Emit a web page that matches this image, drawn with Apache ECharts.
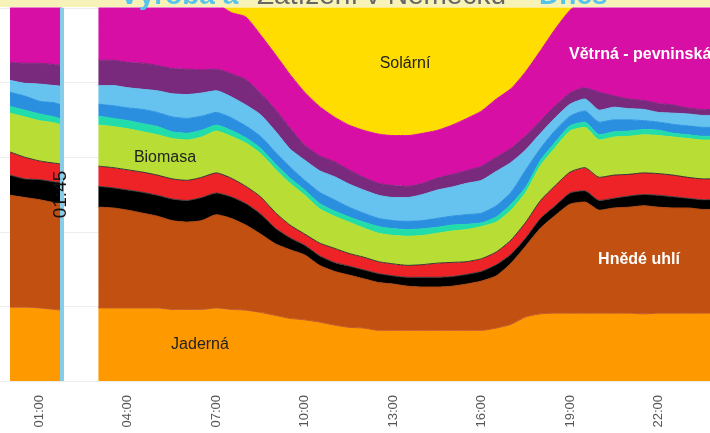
<!DOCTYPE html>
<html>
<head>
<meta charset="utf-8">
<script src="https://cdn.jsdelivr.net/npm/echarts@6/dist/echarts.min.js"></script>
<style>
  html, body { margin: 0; padding: 0; background: #fff; }
  #main { width: 710px; height: 433px; }
</style>
</head>
<body>
<div id="main"></div>
<script>
// čas v hodinách, mezera v datech 02:00 - 02:45 (null)
var hours = [0, 0.5, 1, 1.5, 1.75, 2.25, 3, 3.5, 4, 4.5, 5, 5.5, 6, 6.5, 7, 7.5, 8, 8.5, 9, 9.5,
  10, 10.5, 11, 11.5, 12, 12.5, 13, 13.5, 14, 14.5, 15, 15.5, 16, 16.5, 17, 17.5, 18, 18.5, 19, 19.5,
  20, 20.5, 21, 21.5, 22, 22.5, 23, 23.5, 23.75];

// výroba v GW
var jaderna = [9.9, 9.9, 9.8, 9.6, 9.5, null, 9.8, 9.8, 9.8, 9.8, 9.8, 9.6, 9.6, 9.6, 9.8, 9.6, 9.5, 9.2, 8.8, 8.4,
  8.2, 7.9, 7.5, 7.2, 7.1, 6.8, 6.8, 6.8, 6.8, 6.8, 6.8, 6.8, 6.8, 7.1, 7.6, 8.6, 9.0, 9.1, 9.1, 9.1,
  9.1, 9.1, 9.1, 9.0, 9.1, 9.1, 9.1, 9.1, 9.1];
var hnedeUhli = [15.0, 14.7, 14.5, 14.3, 14.3, null, 13.5, 13.4, 13.1, 12.7, 12.3, 11.9, 11.7, 11.9, 12.5, 12.2, 11.4, 10.5, 9.6, 9.2,
  8.7, 7.6, 7.2, 7.0, 6.6, 6.4, 6.2, 5.9, 5.8, 5.8, 5.9, 6.2, 6.6, 7.0, 8.2, 9.5, 11.5, 13.1, 14.6, 14.9,
  13.8, 14.1, 14.2, 14.5, 14.2, 14.1, 14.1, 13.9, 13.9];
var cerneUhli = [2.7, 2.5, 2.7, 2.8, 2.8, null, 2.8, 2.7, 2.7, 2.8, 2.8, 2.9, 2.9, 3.1, 2.9, 2.9, 2.9, 2.7, 2.1, 1.6,
  1.3, 1.3, 1.2, 1.2, 1.2, 1.2, 1.1, 1.2, 1.3, 1.3, 1.3, 1.3, 1.3, 1.5, 1.2, 1.1, 1.3, 1.3, 1.5, 1.5,
  1.3, 1.3, 1.5, 1.5, 1.6, 1.5, 1.3, 1.3, 1.3];
var plyn = [3.1, 2.9, 2.5, 2.5, 2.5, null, 2.7, 2.7, 2.7, 2.7, 2.7, 2.7, 2.7, 2.7, 2.7, 2.5, 2.3, 2.3, 2.1, 1.7,
  1.5, 1.7, 1.9, 1.7, 1.7, 1.6, 1.6, 1.6, 1.7, 1.9, 1.9, 1.7, 1.7, 1.7, 1.9, 2.1, 2.4, 2.7, 2.8, 3.1,
  3.1, 3.1, 2.9, 2.9, 2.9, 2.9, 2.8, 2.8, 2.8];
var biomasa = [5.2, 5.4, 5.4, 5.4, 5.2, null, 5.5, 5.5, 5.5, 5.4, 5.4, 5.4, 5.4, 5.4, 5.6, 5.6, 5.8, 5.8, 5.8, 5.6,
  5.2, 4.6, 4.3, 4.2, 3.9, 3.8, 3.8, 3.9, 3.9, 4.0, 4.2, 4.3, 4.3, 4.0, 4.0, 4.0, 4.7, 5.1, 5.5, 5.4,
  5.0, 5.1, 5.1, 5.1, 5.1, 5.1, 5.2, 5.2, 5.2];
var vodni = [0.9, 0.9, 0.9, 0.8, 0.8, null, 1.2, 1.1, 1.1, 1.1, 1.1, 0.9, 0.9, 0.9, 0.8, 0.8, 0.7, 0.7, 0.7, 0.7,
  0.7, 0.7, 0.7, 0.7, 0.8, 0.9, 0.9, 0.9, 0.9, 0.8, 0.8, 0.7, 0.5, 0.7, 0.8, 0.7, 0.7, 0.7, 0.7, 0.7,
  0.7, 0.7, 0.7, 0.7, 0.7, 0.5, 0.5, 0.5, 0.5];
var precerpavaci = [1.9, 1.9, 1.7, 1.9, 1.9, null, 1.6, 1.7, 1.7, 1.9, 1.9, 2.0, 2.0, 1.9, 1.7, 1.7, 1.6, 1.6, 1.6, 1.5,
  1.3, 1.5, 1.5, 1.3, 1.2, 1.1, 1.1, 1.1, 1.1, 1.2, 1.2, 1.3, 1.3, 1.5, 1.6, 2.3, 1.6, 1.6, 1.3, 1.5,
  1.7, 1.6, 1.5, 1.2, 1.1, 1.2, 1.2, 1.2, 1.2];
var vetrnaMorska = [1.6, 1.7, 2.3, 2.3, 2.5, null, 2.5, 2.7, 2.7, 2.7, 2.9, 3.1, 3.2, 3.1, 2.9, 2.8, 2.8, 2.9, 2.8, 2.4,
  2.7, 2.9, 3.1, 3.1, 3.1, 3.1, 3.1, 3.2, 3.5, 3.8, 3.9, 4.2, 4.4, 4.6, 4.0, 2.7, 2.0, 1.7, 1.6, 1.6,
  1.6, 1.7, 1.5, 1.5, 1.3, 1.5, 1.6, 1.6, 1.6];
var ostatni = [2.4, 2.7, 2.8, 2.8, 2.8, null, 3.4, 3.4, 3.4, 3.5, 3.4, 3.4, 3.4, 3.1, 2.9, 3.1, 3.4, 2.9, 2.9, 2.8,
  2.0, 2.0, 2.0, 1.9, 1.7, 1.6, 1.6, 1.5, 1.5, 1.6, 1.7, 1.7, 1.9, 1.9, 1.9, 1.9, 1.7, 1.6, 1.5, 1.5,
  2.4, 1.5, 1.3, 1.2, 1.2, 1.1, 0.8, 0.8, 0.8];
var vetrnaPevninska = [8.0, 8.0, 8.2, 8.3, 8.3, null, 7.8, 7.9, 8.2, 8.3, 8.6, 8.8, 9.0, 9.1, 8.8, 8.2, 8.4, 7.8, 7.4, 7.2,
  7.1, 6.6, 6.0, 6.0, 6.3, 6.6, 6.7, 6.8, 6.7, 6.4, 6.6, 7.0, 7.4, 7.8, 8.0, 8.6, 9.4, 10.3, 11.1, 11.7,
  12.1, 12.6, 13.0, 13.3, 13.5, 13.8, 14.1, 14.2, 14.2];
var solarni = [0, 0, 0, 0, 0, null, 0, 0, 0, 0, 0, 0, 0, 0, 0, 1.2, 2.0, 4.4, 6.8, 9.5,
  12.1, 13.9, 15.4, 16.5, 17.2, 17.7, 18.0, 17.8, 17.6, 17.2, 16.5, 15.5, 14.5, 13.1, 11.5, 9.4, 6.4, 3.5, 1.1, 0,
  0, 0, 0, 0, 0, 0, 0, 0, 0];

var tickHours = [1, 4, 7, 10, 13, 16, 19, 22];
var nowHour = 1.75;

var names = ['Jaderná', 'Hnědé uhlí', 'Černé uhlí', 'Plyn', 'Biomasa', 'Vodní', 'Přečerpávací',
  'Větrná - mořská', 'Ostatní', 'Větrná - pevninská', 'Solární'];
var values = [jaderna, hnedeUhli, cerneUhli, plyn, biomasa, vodni, precerpavaci,
  vetrnaMorska, ostatni, vetrnaPevninska, solarni];
var colors = ['#FF9900', '#C25010', '#000000', '#EE2328', '#B8DE35', '#22DDAA', '#2B8FE0',
  '#66C2EF', '#792A7C', '#D70FA5', '#FFDD00'];
var lineColors = ['#C0582A', '#B04A12', '#3a3a3a', '#333333', '#B8DE35', '#22DDAA', '#2B8FE0',
  '#66C2EF', '#792A7C', '#D70FA5', '#FFDD00'];

var myChart = echarts.init(document.getElementById('main'));

// hodnota je v datech první, aby se stohovala osa y (ne hodiny na ose x)
var series = names.map(function (name, k) {
  return {
    name: name,
    type: 'line',
    stack: 'vyroba',
    symbol: 'none',
    smooth: 0.2,
    connectNulls: false,
    color: colors[k],
    lineStyle: { width: 1, color: lineColors[k] },
    areaStyle: { color: colors[k], opacity: 1 },
    encode: { x: 1, y: 0 },
    data: hours.map(function (h, i) { return [values[k][i], h]; })
  };
});

// svislá čára aktuálního času
series[series.length - 1].markLine = {
  silent: true,
  symbol: ['none', 'none'],
  animation: false,
  lineStyle: { color: '#86CDEA', width: 4, type: 'solid', opacity: 1 },
  label: {
    show: true,
    formatter: '01:45',
    position: 'middle',
    distance: -9,
    color: '#111',
    fontSize: 19,
    fontFamily: 'Liberation Sans'
  },
  data: [{ xAxis: nowHour }]
};

function lbl(text, x, y, color, align, weight) {
  return {
    type: 'text', x: x, y: y, z: 50,
    style: {
      text: text, fill: color, align: align || 'center', verticalAlign: 'middle',
      font: (weight || 'normal') + ' 16px "Liberation Sans", Arial, sans-serif'
    }
  };
}

function titlePart(text, x, color, weight) {
  return {
    type: 'text', x: x, y: -4, z: 61,
    style: { text: text, fill: color, verticalAlign: 'middle', font: weight + ' 28px "Liberation Sans"' }
  };
}

myChart.setOption({
  animation: false,
  grid: { left: 0, top: 8, width: 718, height: 373 },
  xAxis: {
    type: 'value',
    min: -0.34,
    max: 23.75,
    axisLine: { show: false },
    axisTick: { show: false },
    splitLine: { show: false },
    axisLabel: {
      customValues: tickHours,
      rotate: 90,
      margin: 14,
      fontSize: 13,
      color: '#555',
      fontFamily: 'Liberation Sans',
      formatter: function (v) { return (v < 10 ? '0' : '') + v + ':00'; }
    }
  },
  yAxis: {
    type: 'value',
    min: 0,
    max: 50,
    interval: 10,
    axisLabel: { show: false },
    axisLine: { show: false },
    axisTick: { show: false },
    splitLine: { lineStyle: { color: '#ececec' } }
  },
  series: series,
  graphic: [
    { type: 'rect', x: 0, y: 0, z: 60, shape: { width: 710, height: 7 }, style: { fill: '#F6F2B8' } },
    titlePart('Výroba a', 120, '#55C3EE', 'bold'),
    titlePart('Zatížení v Německu', 257, '#666', 'normal'),
    titlePart('- Dnes', 522, '#55C3EE', 'bold'),
    lbl('Solární', 405, 64, '#222'),
    lbl('Větrná - pevninská', 569, 55, '#fff', 'left', 'bold'),
    lbl('Biomasa', 165, 158, '#222'),
    lbl('Hnědé uhlí', 639, 260, '#fff', 'center', 'bold'),
    lbl('Jaderná', 200, 345, '#222')
  ]
});
</script>
</body>
</html>
